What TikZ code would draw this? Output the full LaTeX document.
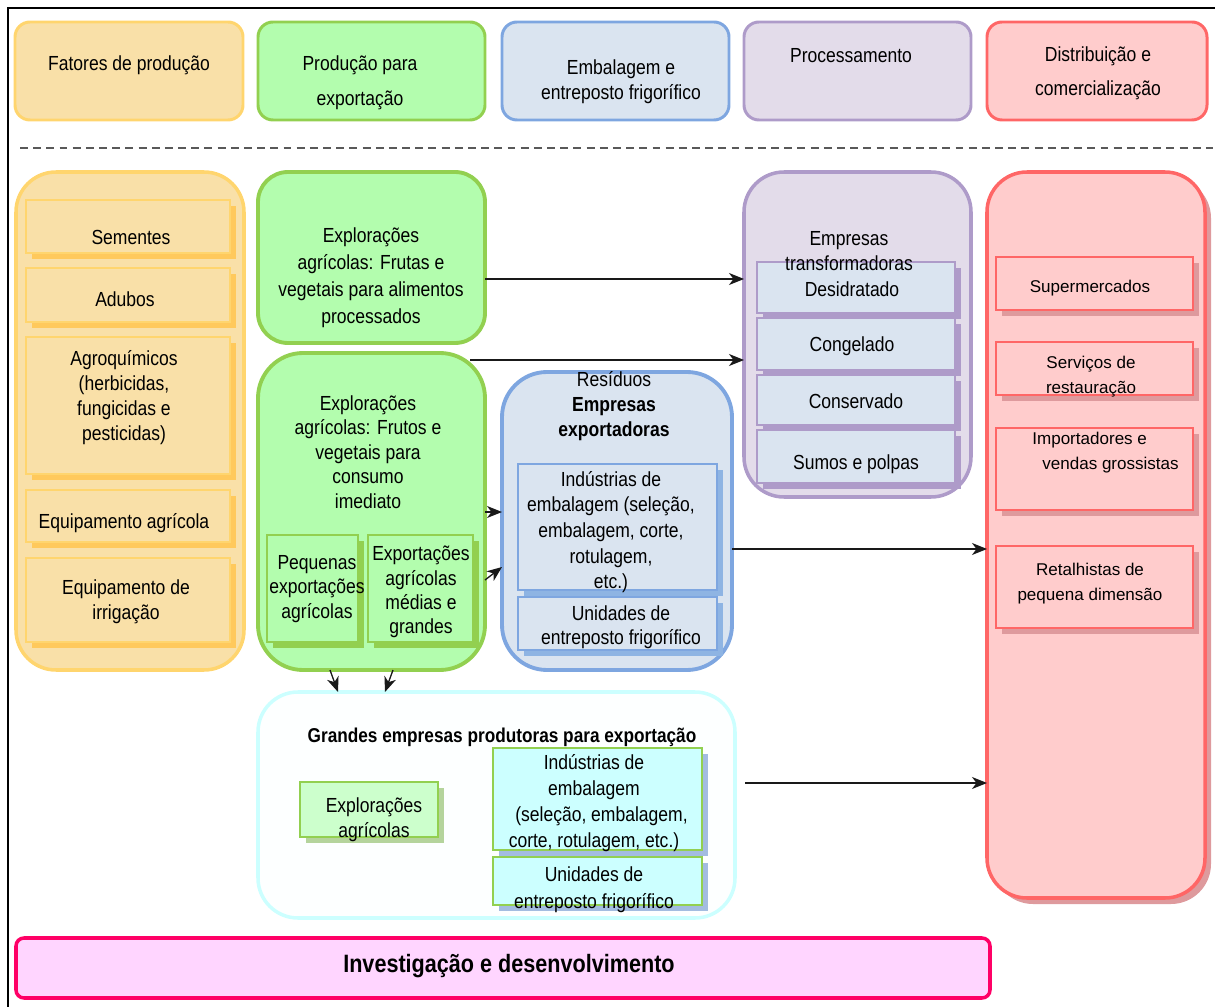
\documentclass[tikz,border=0pt]{standalone}
\usepackage{fontspec}
\setmainfont{Liberation Sans}[FakeStretch=0.86]
\newfontfamily\widef{Liberation Sans}
\usetikzlibrary{fit,shadows,arrows.meta}
\definecolor{ofill}{HTML}{F9E0A8}
\definecolor{oline}{HTML}{FFD56E}
\definecolor{oshad}{HTML}{FFC95C}
\definecolor{gfill}{HTML}{B3FDAE}
\definecolor{gline}{HTML}{92D050}
\definecolor{bfill}{HTML}{DAE4F0}
\definecolor{bline}{HTML}{7EA6E0}
\definecolor{bshad}{HTML}{8EB4E3}
\definecolor{pfill}{HTML}{E3DCEA}
\definecolor{pline}{HTML}{AE9BC9}
\definecolor{rfill}{HTML}{FFCCCC}
\definecolor{rline}{HTML}{FF6666}
\definecolor{rshad}{HTML}{DE9A9D}
\definecolor{mfill}{HTML}{FFD5FF}
\definecolor{mline}{HTML}{FF0066}
\definecolor{cline}{HTML}{CCFFFF}
\definecolor{cfill}{HTML}{CCFFFF}
\definecolor{wfill}{HTML}{FDFFFF}
\definecolor{lgfill}{HTML}{CCFFCC}
\definecolor{lgshad}{HTML}{B5D49C}
\definecolor{cshad}{HTML}{A3BCE0}
\tikzset{
  boxbase/.style={draw, inner sep=0pt, outer sep=0pt},
  hdr/.style={boxbase, line width=1.7pt, rounded corners=0.3cm},
  big/.style={boxbase, line width=2pt, rounded corners=0.8cm},
  inbox/.style={boxbase, line width=1.6pt},
  shad/.style={drop shadow={shadow xshift=0.12cm, shadow yshift=-0.12cm, fill=#1, opacity=1}},
  txt/.style={font=\fontsize{11.6}{14.2}\selectfont, align=center, inner sep=0pt},
  rtxt/.style={font=\widef\fontsize{9.7}{14.2}\selectfont, align=center, inner sep=0pt},
  arr/.style={draw=black!90, line width=0.75pt, -{Stealth[length=0.3cm,width=0.24cm,inset=0.09cm]}},
}
\begin{document}
\begin{tikzpicture}[x=0.02cm,y=-0.02cm]
\useasboundingbox (0,0) rectangle (1215,1007);
% frame
\coordinate (fa) at (8,8); \coordinate (fb) at (1215,8); \coordinate (fc) at (8,1007);
\draw[line width=1.2pt] (fb) -- (fa) -- (fc);
% dashed separator
\coordinate (da) at (20,148); \coordinate (db) at (1213,148);
\draw[black!65, line width=0.8pt, dash pattern=on 4.5pt off 3pt] (da) -- (db);

% headers
\node[hdr, fill=ofill, draw=oline, fit={(15,22)(243,120)}] (h1) {};
\node[hdr, fill=gfill, draw=gline, fit={(258,22)(485,120)}] (h2) {};
\node[hdr, fill=bfill, draw=bline, fit={(502,22)(729,120)}] (h3) {};
\node[hdr, fill=pfill, draw=pline, fit={(744,22)(971,120)}] (h4) {};
\node[hdr, fill=rfill, draw=rline, fit={(987,22)(1207,120)}] (h5) {};
\node[txt] (h1t) at (129,65) {Fatores de produção};
\node[txt] (h2t) at (360,82.5) {Produção para\\[5.6pt]exportação};
\node[txt] (h3t) at (621,82) {Embalagem e\\entreposto frigorífico};
\node[txt] (h4t) at (851,56) {Processamento};
\node[txt] (h5t) at (1098,73) {Distribuição e\\[5.4pt]comercialização};

% columns
\node[big, fill=ofill, draw=oline, fit={(16,172)(244,670)}] (col1) {};
\node[big, fill=gfill, draw=gline, line width=2.2pt, rounded corners=0.6cm, fit={(258,172)(485,343)}] (g1) {};
\node[big, fill=gfill, draw=gline, line width=2.2pt, rounded corners=0.9cm, fit={(258,353)(485,670)}] (g2) {};
\node[big, fill=bfill, draw=bline, line width=2.2pt, rounded corners=0.9cm, fit={(502,372)(732,670)}] (bbox) {};
\node[big, fill=pfill, draw=pline, fit={(744,172)(971,497)}] (pbox) {};
\node[big, fill=rfill, draw=rline, shad=rshad, fit={(987,172)(1205,898)}] (rcol) {};
\node[big, fill=wfill, draw=cline, fit={(258,692)(735,918)}] (wbox) {};
\node[boxbase, draw=mline, fill=mfill, line width=2pt, rounded corners=0.16cm, fit={(16,938)(990,998)}] (rd) {};
\node[txt, font=\bfseries\fontsize{14.3}{16}\selectfont] (rdt) at (509,966) {Investigação e desenvolvimento};

% orange inner boxes
\node[inbox, fill=ofill, draw=oline, shad=oshad, fit={(26,200)(230,253)}] (o1) {};
\node[inbox, fill=ofill, draw=oline, shad=oshad, fit={(26,268)(230,322)}] (o2) {};
\node[inbox, fill=ofill, draw=oline, shad=oshad, fit={(26,337)(230,474)}] (o3) {};
\node[inbox, fill=ofill, draw=oline, shad=oshad, fit={(26,490)(230,542)}] (o4) {};
\node[inbox, fill=ofill, draw=oline, shad=oshad, fit={(26,558)(230,642)}] (o5) {};
\node[txt] (o1t) at (131,237) {Sementes};
\node[txt] (o2t) at (125,299) {Adubos};
\node[txt] (o3t) at (124,397.5) {Agroquímicos\\(herbicidas,\\fungicidas e\\pesticidas)};
\node[txt] (o4t) at (124,523) {Equipamento agrícola};
\node[txt] (o5t) at (126,602) {Equipamento de\\irrigação};

% green texts and inner boxes
\node[txt, font=\fontsize{11.6}{15.4}\selectfont] (g1t) at (371,278) {Explorações\\agrícolas: Frutas e\\vegetais para alimentos\\processados};
\node[txt, font=\fontsize{11.6}{14}\selectfont] (g2t) at (368,452) {Explorações\\agrícolas: Frutos e\\vegetais para\\consumo\\imediato};
\node[inbox, fill=gfill, draw=gline, shad=gline, fit={(267,535)(358,642)}] (gi1) {};
\node[inbox, fill=gfill, draw=gline, shad=gline, fit={(368,535)(473,642)}] (gi2) {};
\node[txt, font=\fontsize{11.6}{13.8}\selectfont] (gi1t) at (317,589) {Pequenas\\exportações\\agrícolas};
\node[txt, font=\fontsize{11.6}{13.8}\selectfont] (gi2t) at (421,592) {Exportações\\agrícolas\\médias e\\grandes};

% purple inner boxes
\node[inbox, fill=bfill, draw=pline, shad=pline, fit={(757,262)(955,313)}] (p1) {};
\node[inbox, fill=bfill, draw=pline, shad=pline, fit={(757,318)(955,370)}] (p2) {};
\node[inbox, fill=bfill, draw=pline, shad=pline, fit={(757,375)(955,425)}] (p3) {};
\node[inbox, fill=bfill, draw=pline, shad=pline, fit={(757,430)(955,483)}] (p4) {};
\node[txt] (pt) at (849,251) {Empresas\\transformadoras};
\node[txt] (p1t) at (852,289) {Desidratado};
\node[txt] (p2t) at (852,346) {Congelado};
\node[txt] (p3t) at (856,401) {Conservado};
\node[txt] (p4t) at (856,464) {Sumos e polpas};

% blue inner boxes
\node[txt] (bt) at (614,406.5) {Resíduos\\\textbf{Empresas}\\\textbf{exportadoras}};
\node[inbox, fill=bfill, draw=bline, shad=bshad, fit={(518,464)(717,590)}] (b1) {};
\node[inbox, fill=bfill, draw=bline, shad=bshad, fit={(518,597)(717,650)}] (b2) {};
\node[txt, font=\fontsize{11.6}{14.6}\selectfont] (b1t) at (611,532) {Indústrias de\\embalagem (seleção,\\embalagem, corte,\\rotulagem,\\etc.)};
\node[txt, font=\fontsize{11.6}{13.6}\selectfont] (b2t) at (621,627) {Unidades de\\entreposto frigorífico};

% red inner boxes
\node[inbox, line width=1.2pt, fill=rfill, draw=rline, shad=rshad, fit={(996,257)(1193,310)}] (r1) {};
\node[inbox, line width=1.2pt, fill=rfill, draw=rline, shad=rshad, fit={(996,342)(1193,395)}] (r2) {};
\node[inbox, line width=1.2pt, fill=rfill, draw=rline, shad=rshad, fit={(996,428)(1193,510)}] (r3) {};
\node[inbox, line width=1.2pt, fill=rfill, draw=rline, shad=rshad, fit={(996,546)(1193,628)}] (r4) {};
\node[rtxt] (r1t) at (1090,288) {Supermercados};
\node[rtxt] (r2t) at (1091,376.5) {Serviços de\\restauração};
\node[rtxt, align=left, anchor=west] (r3t) at (1032,452.5) {Importadores e\\\hspace*{0.2cm}vendas grossistas};
\node[rtxt] (r4t) at (1090,584) {Retalhistas de\\pequena dimensão};

% white box contents
\node[txt, font=\bfseries\fontsize{11.4}{14}\selectfont] (wt) at (502,737) {Grandes empresas produtoras para exportação};
\node[inbox, fill=lgfill, draw=gline, shad=lgshad, fit={(300,782)(438,837)}] (w1) {};
\node[inbox, fill=cfill, draw=gline, shad=cshad, fit={(493,748)(702,850)}] (w2) {};
\node[inbox, fill=cfill, draw=gline, shad=cshad, fit={(493,857)(702,905)}] (w3) {};
\node[txt, font=\fontsize{11.6}{14.4}\selectfont] (w1t) at (374,820) {Explorações\\agrícolas};
\node[txt, font=\fontsize{11.6}{14.8}\selectfont] (w2t) at (594,803) {Indústrias de\\embalagem\\\hspace*{0.3cm}(seleção, embalagem,\\corte, rotulagem, etc.)};
\node[txt, font=\fontsize{11.6}{15.3}\selectfont] (w3t) at (594,889.5) {Unidades de\\entreposto frigorífico};

% helper coordinates
\coordinate (y279) at (0,279);
\coordinate (y360) at (0,360);
\coordinate (y512) at (0,512);
\coordinate (y567) at (0,567);
\coordinate (y580) at (0,580);
\coordinate (y549) at (0,549);
\coordinate (y783) at (0,783);
\coordinate (x330) at (330,0);
\coordinate (x338) at (338,0);
\coordinate (x393) at (393,0);
\coordinate (x385) at (385,0);
\coordinate (g2c) at (470,360);
\coordinate (w8) at (745,783);

% connectors
\draw[arr] (g1.east |- y279) -- (pbox.west |- y279);
\draw[arr] (g2c) -- (pbox.west |- y360);
\draw[arr] (g2.east |- y512) -- (bbox.west |- y512);
\draw[arr] (g2.east |- y580) -- (bbox.west |- y567);
\draw[arr] (x330 |- g2.south) -- (x338 |- wbox.north);
\draw[arr] (x393 |- g2.south) -- (x385 |- wbox.north);
\draw[arr] (bbox.east |- y549) -- (rcol.west |- y549);
\draw[arr] (w8) -- (rcol.west |- y783);
\end{tikzpicture}
\end{document}
